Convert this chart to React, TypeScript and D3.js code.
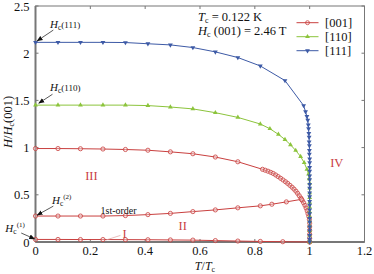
import React from "react";
import * as d3 from "d3";

// T/Tc, H/Hc(001) pairs
const series001Upper: [number, number][] = [
  [0, 0.99], [0.082, 0.99], [0.164, 0.988], [0.246, 0.985], [0.328, 0.98], [0.41, 0.972],
  [0.492, 0.955], [0.574, 0.935], [0.656, 0.9], [0.738, 0.85], [0.828, 0.77],
  [0.838, 0.76], [0.848, 0.75], [0.858, 0.738], [0.867, 0.726], [0.876, 0.71], [0.885, 0.693],
  [0.894, 0.675], [0.903, 0.657], [0.912, 0.638], [0.92, 0.62], [0.928, 0.6], [0.936, 0.58],
  [0.943, 0.56], [0.95, 0.538], [0.956, 0.515], [0.962, 0.49], [0.968, 0.465], [0.973, 0.44],
  [0.978, 0.415], [0.983, 0.388], [0.987, 0.36], [0.991, 0.33], [0.994, 0.3], [0.997, 0.27],
  [0.999, 0.24], [1, 0.2], [1, 0.16], [1, 0.12], [1, 0.08], [1, 0.04], [1, 0],
];
const series001First: [number, number][] = [
  [0, 0.275], [0.082, 0.275], [0.164, 0.275], [0.246, 0.275], [0.328, 0.28], [0.41, 0.29],
  [0.492, 0.303], [0.574, 0.322], [0.656, 0.34], [0.738, 0.362], [0.82, 0.383], [0.862, 0.4],
  [0.915, 0.425], [0.97, 0.452],
];
const series001Lower: [number, number][] = [
  [0, 0.027], [0.082, 0.027], [0.164, 0.026], [0.246, 0.026], [0.328, 0.025], [0.41, 0.024],
  [0.492, 0.022], [0.574, 0.02], [0.656, 0.015], [0.738, 0.01], [0.82, 0.006], [0.902, 0.003],
  [1, 0],
];
const series110: [number, number][] = [
  [0, 1.45], [0.082, 1.45], [0.164, 1.45], [0.246, 1.45], [0.328, 1.45], [0.41, 1.445],
  [0.492, 1.43], [0.574, 1.41], [0.656, 1.37], [0.738, 1.32], [0.82, 1.25], [0.855, 1.2],
  [0.886, 1.14], [0.91, 1.085], [0.93, 1.03], [0.949, 0.97], [0.967, 0.905], [0.98, 0.84],
  [0.99, 0.77], [0.996, 0.72], [0.998, 0.67], [1, 0.62], [1, 0.57], [1, 0.52], [1, 0.47],
  [1, 0.42], [1, 0.37], [1, 0.32], [1, 0.27], [1, 0.22], [1, 0.17], [1, 0.12], [1, 0.07],
  [1, 0.02], [1, 0],
];
const series111: [number, number][] = [
  [0, 2.115], [0.082, 2.115], [0.164, 2.115], [0.246, 2.115], [0.328, 2.113], [0.41, 2.1],
  [0.492, 2.088], [0.574, 2.06], [0.656, 2.014], [0.738, 1.954], [0.82, 1.865], [0.91, 1.71],
  [0.978, 1.445], [0.985, 1.38], [0.99, 1.33], [0.993, 1.29], [0.995, 1.24], [0.996, 1.2],
  [0.997, 1.15], [0.998, 1.11], [0.998, 1.06], [0.999, 1.02], [0.999, 0.97], [0.999, 0.93],
  [1, 0.88], [1, 0.84], [1, 0.79], [1, 0.75], [1, 0.7], [1, 0.66], [1, 0.61], [1, 0.57],
  [1, 0.52], [1, 0.48], [1, 0.43], [1, 0.39], [1, 0.34], [1, 0.3], [1, 0.25], [1, 0.21],
  [1, 0.16], [1, 0.12], [1, 0.07], [1, 0.03], [1, 0],
];

const xTicks = [0, 0.2, 0.4, 0.6, 0.8, 1, 1.2];
const yTicks = [0, 0.5, 1, 1.5, 2, 2.5];
const legendLabels = ["[001]", "[110]", "[111]"];
const phaseLabels: { text: string; x: number; y: number }[] = [
  { text: "III", x: 0.204, y: 0.655 },
  { text: "II", x: 0.537, y: 0.125 },
  { text: "IV", x: 1.099, y: 0.795 },
  { text: "I", x: 0.325, y: 0.045 },
];

const RED = "#c9403f";
const GREEN = "#8cc43c";
const BLUE = "#3d5aa6";
const AXIS = "#777";
const FONT = "'Liberation Serif', 'Times New Roman', serif";

const W = 374;
const H = 274;
const x = d3.scaleLinear().domain([0, 1.2]).range([35.5, 364.5]);
const y = d3.scaleLinear().domain([0, 2.5]).range([242, 6]);
const line = d3.line<[number, number]>().x((d) => x(d[0])).y((d) => y(d[1]));
const tri = d3.symbol(d3.symbolTriangle, 10)();

function Circles({ data }: { data: [number, number][] }) {
  return (
    <g>
      {data.map((d, i) => (
        <circle key={i} cx={x(d[0])} cy={y(d[1])} r={2.1} fill="#f3d6d6" fillOpacity={0.4} stroke={RED} strokeWidth={0.8} />
      ))}
    </g>
  );
}

function Triangles({ data, color, down }: { data: [number, number][]; color: string; down?: boolean }) {
  return (
    <g>
      {data.map((d, i) => (
        <path key={i} d={tri || ""} transform={`translate(${x(d[0])},${y(d[1])})${down ? " rotate(180)" : ""}`} fill={color} />
      ))}
    </g>
  );
}

function Arrow({ from, to }: { from: [number, number]; to: [number, number] }) {
  return (
    <line x1={x(from[0])} y1={y(from[1])} x2={x(to[0])} y2={y(to[1])} stroke="#111" strokeWidth={0.7} markerEnd="url(#ah)" />
  );
}

export default function App() {
  return (
    <svg width={W} height={H} style={{ position: "absolute", left: 0, top: 0, background: "#fff" }} fontFamily={FONT}>
      <defs>
        <marker id="ah" viewBox="0 0 10 10" refX="9" refY="5" markerWidth="6" markerHeight="6" orient="auto-start-reverse" markerUnits="userSpaceOnUse">
          <path d="M0,1 L10,5 L0,9 z" fill="#111" />
        </marker>
      </defs>

      {/* frame */}
      <rect x={x(0)} y={y(2.5)} width={x(1.2) - x(0)} height={y(0) - y(2.5)} fill="none" stroke={AXIS} strokeWidth={1} />
      <line x1={x(0)} x2={x(0)} y1={y(2.5)} y2={y(0)} stroke={AXIS} strokeWidth={2} />
      <line x1={x(0)} x2={x(1.2)} y1={y(0)} y2={y(0)} stroke={AXIS} strokeWidth={2} />

      {xTicks.map((t) => (
        <g key={"x" + t}>
          <line x1={x(t)} x2={x(t)} y1={y(0)} y2={y(0) - 3} stroke={AXIS} />
          <line x1={x(t)} x2={x(t)} y1={y(2.5)} y2={y(2.5) + 3} stroke={AXIS} />
          <text x={x(t)} y={y(0) + 13} textAnchor="middle" fontSize={12.5} fill="#111">{t}</text>
        </g>
      ))}
      {yTicks.map((t) => (
        <g key={"y" + t}>
          <line x1={x(0)} x2={x(0) + 3} y1={y(t)} y2={y(t)} stroke={AXIS} />
          <line x1={x(1.2)} x2={x(1.2) - 3} y1={y(t)} y2={y(t)} stroke={AXIS} />
          <text x={x(0) - 6} y={y(t) + 4.5} textAnchor="end" fontSize={12.5} fill="#111">{t}</text>
        </g>
      ))}

      <text x={205} y={270} textAnchor="middle" fontSize={12} fill="#111">
        <tspan fontStyle="italic">T</tspan>/<tspan fontStyle="italic">T</tspan>
        <tspan fontSize={8} dy={2}>c</tspan>
      </text>
      <text transform="translate(11.5,122) rotate(-90)" textAnchor="middle" fontSize={12.5} fill="#111">
        <tspan fontStyle="italic">H</tspan>/<tspan fontStyle="italic">H</tspan>
        <tspan fontSize={8} dy={2}>c</tspan>
        <tspan dy={-2}>(001)</tspan>
      </text>

      {/* curves */}
      <path d={line(series001Upper) || ""} fill="none" stroke={RED} strokeWidth={1} />
      <path d={line(series001First) || ""} fill="none" stroke={RED} strokeWidth={1} />
      <path d={line(series001Lower) || ""} fill="none" stroke={RED} strokeWidth={1} />
      <Circles data={series001Upper} />
      <Circles data={series001First} />
      <Circles data={series001Lower} />
      <path d={line(series110) || ""} fill="none" stroke={GREEN} strokeWidth={1} />
      <Triangles data={series110} color={GREEN} />
      <path d={line(series111) || ""} fill="none" stroke={BLUE} strokeWidth={1} />
      <Triangles data={series111} color={BLUE} down />

      {/* phase labels */}
      <line x1={x(0.258)} y1={y(0.022)} x2={x(0.31)} y2={y(0.07)} stroke="#e0a0a0" strokeWidth={0.7} />
      {phaseLabels.map((p) => (
        <text key={p.text} x={x(p.x)} y={y(p.y)} textAnchor="middle" fontSize={12.5} fill={RED}>{p.text}</text>
      ))}
      <text x={x(0.303)} y={y(0.3)} textAnchor="middle" fontSize={10} fill="#111">1st-order</text>

      {/* annotations */}
      <text x={x(0.053)} y={y(2.27)} fontSize={11} fill="#111">
        <tspan fontStyle="italic">H</tspan><tspan fontSize={7.5} dy={2}>c</tspan><tspan fontSize={9} dy={-2}>(111)</tspan>
      </text>
      <Arrow from={[0.065, 2.245]} to={[0.006, 2.13]} />
      <text x={x(0.053)} y={y(1.6)} fontSize={11} fill="#111">
        <tspan fontStyle="italic">H</tspan><tspan fontSize={7.5} dy={2}>c</tspan><tspan fontSize={9} dy={-2}>(110)</tspan>
      </text>
      <Arrow from={[0.062, 1.565]} to={[0.012, 1.47]} />
      <text x={x(0.06)} y={y(0.405)} fontSize={11} fill="#111">
        <tspan fontStyle="italic">H</tspan><tspan fontSize={7.5} dy={2}>c</tspan><tspan fontSize={7} dy={-7}>(2)</tspan>
      </text>
      <Arrow from={[0.065, 0.38]} to={[0.006, 0.285]} />
      <text x={x(-0.11)} y={y(0.105)} fontSize={11} fill="#111">
        <tspan fontStyle="italic">H</tspan><tspan fontSize={7.5} dy={2}>c</tspan><tspan fontSize={7} dy={-7}>(1)</tspan>
      </text>
      <Arrow from={[-0.052, 0.095]} to={[-0.003, 0.032]} />

      {/* info + legend */}
      <text x={198} y={21} fontSize={12.5} fill="#111">
        <tspan fontStyle="italic">T</tspan><tspan fontSize={8} dy={2}>c</tspan><tspan dy={-2}> = 0.122 K</tspan>
      </text>
      <text x={198} y={35} fontSize={12.5} fill="#111">
        <tspan fontStyle="italic">H</tspan><tspan fontSize={8} dy={2}>c</tspan><tspan dy={-2}> (001) = 2.46 T</tspan>
      </text>
      {legendLabels.map((lab, i) => {
        const ly = 22.7 + i * 14;
        const col = [RED, GREEN, BLUE][i];
        return (
          <g key={lab}>
            <line x1={296.5} x2={318.5} y1={ly} y2={ly} stroke={col} strokeWidth={1} />
            {i === 0 ? (
              <circle cx={307.5} cy={ly} r={2} fill="none" stroke={RED} strokeWidth={0.8} />
            ) : (
              <path d={tri || ""} transform={`translate(307.5,${ly})${i === 2 ? " rotate(180)" : ""}`} fill={col} />
            )}
            <text x={325} y={ly + 4.5} fontSize={12.5} fill="#111">{lab}</text>
          </g>
        );
      })}
    </svg>
  );
}
